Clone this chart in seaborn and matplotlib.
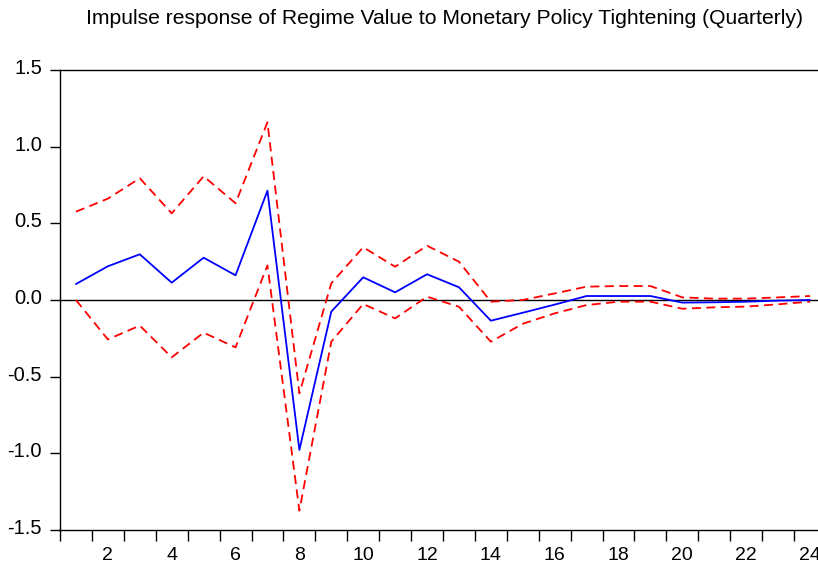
import matplotlib
matplotlib.use("Agg")
import matplotlib.pyplot as plt
import matplotlib.transforms as mtransforms
import seaborn as sns
import pandas as pd
import numpy as np

periods = list(range(1, 25))
response = [0.104, 0.22, 0.298, 0.113, 0.276, 0.161, 0.713, -0.978, -0.076, 0.148,
            0.050, 0.168, 0.083, -0.135, -0.083, -0.030, 0.026, 0.026, 0.026, -0.017,
            -0.015, -0.011, -0.004, 0.0]
upper = [0.576, 0.661, 0.794, 0.565, 0.807, 0.631, 1.159, -0.609, 0.109, 0.344,
         0.217, 0.354, 0.25, -0.011, 0.0, 0.043, 0.087, 0.091, 0.091, 0.017,
         0.009, 0.009, 0.017, 0.026]
lower = [0.0, -0.257, -0.167, -0.374, -0.213, -0.309, 0.226, -1.374, -0.272, -0.026,
         -0.12, 0.022, -0.044, -0.272, -0.155, -0.087, -0.033, -0.011, -0.011, -0.057,
         -0.048, -0.043, -0.028, -0.011]
y_ticks = [-1.5, -1.0, -0.5, 0.0, 0.5, 1.0, 1.5]
y_labels = ["-1.5", "-1.0", "-0.5", "0.0", "0.5", "1.0", "1.5"]
x_labels = [str(p) for p in range(2, 25, 2)]
title = "Impulse response of Regime Value to Monetary Policy Tightening (Quarterly)"

sns.set_style("white")
plt.rcParams['font.family'] = ['Liberation Sans', 'DejaVu Sans']

W, H = 818, 565
fig = plt.figure(figsize=(W / 100, H / 100), dpi=100)
ax = fig.add_axes([60 / W, (H - 530) / H, (826 - 60) / W, (530 - 70) / H])

df = pd.DataFrame({"period": periods, "response": response, "upper": upper, "lower": lower})

ax.axhline(0, color="black", lw=1.0, zorder=1)
sns.lineplot(data=df, x="period", y="upper", ax=ax, color="#ff0000", lw=1.3, zorder=2)
ax.lines[-1].set_dashes([5, 3])
sns.lineplot(data=df, x="period", y="lower", ax=ax, color="#ff0000", lw=1.3, zorder=2)
ax.lines[-1].set_dashes([5, 3])
sns.lineplot(data=df, x="period", y="response", ax=ax, color="#0000ff", lw=1.3, zorder=3)

ax.set_xlim(0.5, 24.5)
ax.set_ylim(-1.5, 1.5)
ax.set_xlabel("")
ax.set_ylabel("")

ax.set_xticks(np.arange(0.5, 25, 1.0))
ax.set_xticklabels([])
ax.set_xticks(list(range(2, 25, 2)), minor=True)
ax.set_xticklabels(x_labels, minor=True)
ax.tick_params(axis="x", which="major", direction="out", length=8, width=1, color="black")
ax.tick_params(axis="x", which="minor", length=0, labelsize=14, pad=12, labelcolor="black")
ax.set_yticks(y_ticks)
ax.set_yticklabels(y_labels)
ax.tick_params(axis="y", direction="out", length=7, width=1, color="black",
               labelsize=14.5, pad=6, labelcolor="black")
ax.tick_params(left=True, bottom=True)

shift = mtransforms.ScaledTranslation(0, 0.035, fig.dpi_scale_trans)
for lab in ax.get_yticklabels():
    lab.set_transform(lab.get_transform() + shift)

for s in ["left", "bottom", "top"]:
    ax.spines[s].set_visible(True)
    ax.spines[s].set_color("black")
    ax.spines[s].set_linewidth(1.0)
ax.spines["right"].set_visible(False)

fig.text(445 / W, 1 - 18 / H, title, ha="center", va="center", fontsize=15.2, color="black")

fig.savefig("out.png", dpi=100)
